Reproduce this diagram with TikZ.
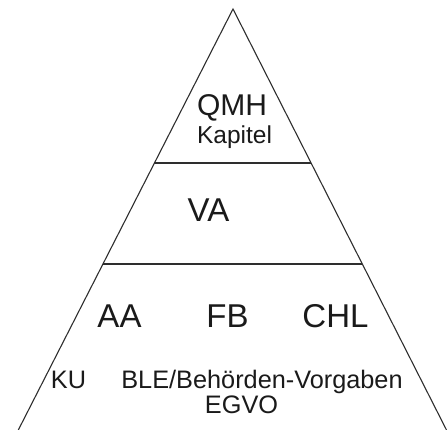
\documentclass[tikz,border=0pt]{standalone}
\usepackage{fontspec}
\setmainfont{Liberation Sans}
\usetikzlibrary{calc}
\definecolor{ink}{HTML}{1A1A1A}
\definecolor{edge}{HTML}{2E2E2E}
\tikzset{
  side/.style={draw=edge, line width=1.1pt},
  sep/.style={draw=edge, line width=1.7pt},
  lbl/.style={anchor=base, inner sep=0pt, text=ink},
  big/.style={lbl, font=\fontsize{33}{38}\selectfont},
  mid/.style={lbl, font=\fontsize{30}{36}\selectfont},
  small/.style={lbl, font=\fontsize{24.5}{29}\selectfont},
  base/.style={lbl, font=\fontsize{25.3}{30}\selectfont},
}
\begin{document}
\begin{tikzpicture}[x=1pt, y=-1pt]
\useasboundingbox (0,0) rectangle (447,430);
\coordinate (A) at (233,9);
\coordinate (BL) at (18.3,430);
\coordinate (BR) at (446.5,430);
\coordinate (L1) at ($(A)!{154/421}!(BL)$);
\coordinate (R1) at ($(A)!{154/421}!(BR)$);
\coordinate (L2) at ($(A)!{255/421}!(BL)$);
\coordinate (R2) at ($(A)!{255/421}!(BR)$);
\draw[side, line join=miter] (BL) -- (A) -- (BR);
\draw[sep] (L1) -- (R1);
\draw[sep] (L2) -- (R2);
\node[mid] (qmh) at (232,115.7) {QMH};
\node[small] (kap) at (234.5,144) {Kapitel};
\node[big] (va) at (208.5,222) {VA};
\node[big] (aa) at (119.5,327) {AA};
\node[big] (fb) at (227.5,327) {FB};
\node[big] (chl) at (335.5,327) {CHL};
\node[base] (ku) at (68.5,388) {KU};
\node[base] (ble) at (262,388) {BLE/Behörden-Vorgaben};
\node[base] (egvo) at (241.5,413.5) {EGVO};
\end{tikzpicture}
\end{document}
